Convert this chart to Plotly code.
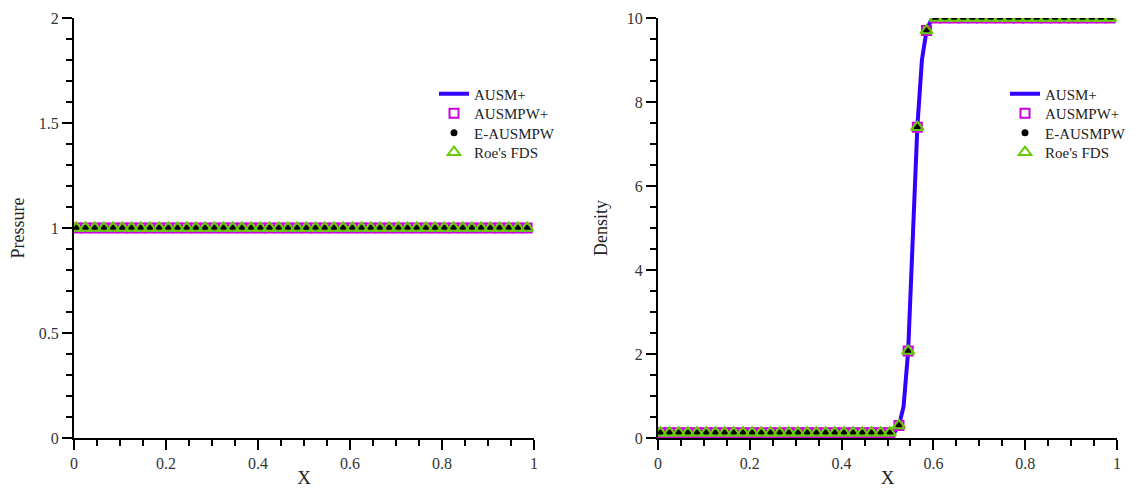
import plotly.graph_objects as go

# ---- data ----
x_markers = [0.005, 0.025, 0.045, 0.065, 0.085, 0.105, 0.125, 0.145, 0.165, 0.185,
             0.205, 0.225, 0.245, 0.265, 0.285, 0.305, 0.325, 0.345, 0.365, 0.385,
             0.405, 0.425, 0.445, 0.465, 0.485, 0.505, 0.525, 0.545, 0.565, 0.585,
             0.605, 0.625, 0.645, 0.665, 0.685, 0.705, 0.725, 0.745, 0.765, 0.785,
             0.805, 0.825, 0.845, 0.865, 0.885, 0.905, 0.925, 0.945, 0.965, 0.985]

pressure_markers = [1.0] * 50

density_markers = [0.125, 0.125, 0.125, 0.125, 0.125, 0.125, 0.125, 0.125, 0.125, 0.125,
                   0.125, 0.125, 0.125, 0.125, 0.125, 0.125, 0.125, 0.125, 0.125, 0.125,
                   0.125, 0.125, 0.125, 0.125, 0.125, 0.125, 0.30, 2.07, 7.40, 9.70,
                   10.0, 10.0, 10.0, 10.0, 10.0, 10.0, 10.0, 10.0, 10.0, 10.0,
                   10.0, 10.0, 10.0, 10.0, 10.0, 10.0, 10.0, 10.0, 10.0, 10.0]

x_line_p = [0.0, 0.995]
pressure_line = [1.0, 1.0]

x_line_d = [0.0, 0.505, 0.515, 0.525, 0.535, 0.545, 0.555, 0.565, 0.575, 0.585, 0.595, 0.605, 0.995]
density_line = [0.125, 0.125, 0.13, 0.30, 0.75, 2.07, 4.6, 7.40, 9.0, 9.70, 9.95, 10.0, 10.0]

x_ticks = [0, 0.2, 0.4, 0.6, 0.8, 1]
x_ticklabels = ["0", "0.2", "0.4", "0.6", "0.8", "1"]
p_ticks = [0, 0.5, 1, 1.5, 2]
p_ticklabels = ["0", "0.5", "1", "1.5", "2"]
d_ticks = [0, 2, 4, 6, 8, 10]
d_ticklabels = ["0", "2", "4", "6", "8", "10"]

names = ["AUSM+", "AUSMPW+", "E-AUSMPW", "Roe's FDS"]

# ---- styles ----
BLUE = "#3300ff"
MAG = "#cc00dd"
GREEN = "#66cc00"
FONT = "Liberation Serif"

W, H = 1145, 488
L, R, T, B = 74, 28, 18, 50
pw = W - L - R
ph = H - T - B

fig = go.Figure()

def add_set(xl, yl, xm, ym, xa, ya, legs):
    fig.add_trace(go.Scatter(x=xl, y=yl, mode="lines", line=dict(color=BLUE, width=4),
                             name=names[0], xaxis=xa, yaxis=ya, legend=legs[0], showlegend=True))
    fig.add_trace(go.Scatter(x=xm, y=ym, mode="markers", name=names[1], xaxis=xa, yaxis=ya, legend=legs[1],
                             showlegend=True,
                             marker=dict(symbol="square-open", size=9, color=MAG, line=dict(width=2, color=MAG))))
    fig.add_trace(go.Scatter(x=xm, y=ym, mode="markers", name=names[2], xaxis=xa, yaxis=ya, legend=legs[2],
                             showlegend=True,
                             marker=dict(symbol="circle", size=7, color="black")))
    fig.add_trace(go.Scatter(x=xm, y=ym, mode="markers", name=names[3], xaxis=xa, yaxis=ya, legend=legs[3],
                             showlegend=True,
                             marker=dict(symbol="triangle-up-open", size=11, color=GREEN, line=dict(width=2, color=GREEN))))

legsA = ["legend", "legend2", "legend3", "legend4"]
legsB = ["legend5", "legend6", "legend7", "legend8"]
add_set(x_line_p, pressure_line, x_markers, pressure_markers, "x", "y", legsA)
add_set(x_line_d, density_line, x_markers, density_markers, "x2", "y2", legsB)

def ax_common():
    return dict(showline=True, linecolor="black", linewidth=2, ticks="outside", ticklen=10,
                tickwidth=2, tickcolor="black", showgrid=False, zeroline=False, automargin=False,
                tickfont=dict(family=FONT, size=16, color="#333333"),
                mirror=False)

xa = ax_common()
xa.update(range=[0, 1], tickvals=x_ticks, ticktext=x_ticklabels,
          minor=dict(ticks="outside", dtick=0.05, tick0=0, ticklen=6, tickwidth=2, tickcolor="black"),
          title=dict(text="X", font=dict(family=FONT, size=19, color="#222222"), standoff=3))
xa2 = dict(xa)

ya = ax_common()
ya.update(range=[0, 2], tickvals=p_ticks, ticktext=p_ticklabels,
          minor=dict(ticks="outside", dtick=0.1, tick0=0, ticklen=6, tickwidth=2, tickcolor="black"),
          title=dict(text="Pressure", font=dict(family=FONT, size=18, color="#222222"), standoff=9))
ya2 = ax_common()
ya2.update(range=[0, 10], tickvals=d_ticks, ticktext=d_ticklabels,
           minor=dict(ticks="outside", dtick=0.5, tick0=0, ticklen=6, tickwidth=2, tickcolor="black"),
           title=dict(text="Density", font=dict(family=FONT, size=18, color="#222222"), standoff=14))

d1 = [0, (534 - L) / pw]
d2 = [(658 - L) / pw, 1]

legfont = dict(family=FONT, size=15, color="#222222")
row_y = [94, 113.5, 133, 152.5]  # legend row centres (px)

# right legend kept inside the figure so it does not push the right margin
layout_legends = {}
for legs, xpx in ((legsA, 473 - 39), (legsB, 1044 - 39)):
    for name, ypx in zip(legs, row_y):
        layout_legends[name] = dict(
            x=(xpx - L) / pw, y=(H - B - ypx) / ph, xanchor="left", yanchor="middle",
            font=legfont, bgcolor="rgba(0,0,0,0)", itemwidth=30, borderwidth=0)

fig.update_layout(
    width=W, height=H, autosize=False,
    margin=dict(l=L, r=R, t=T, b=B),
    plot_bgcolor="white", paper_bgcolor="white",
    showlegend=True,
    xaxis=dict(**xa, domain=d1, anchor="y"),
    yaxis=dict(**ya, domain=[0, 1], anchor="x"),
    xaxis2=dict(**xa2, domain=d2, anchor="y2"),
    yaxis2=dict(**ya2, domain=[0, 1], anchor="x2"),
    **layout_legends,
)

fig.write_html("out.html", config={"displayModeBar": False, "responsive": False},
               post_script="document.body.style.margin='0px';document.body.style.overflow='hidden';")
